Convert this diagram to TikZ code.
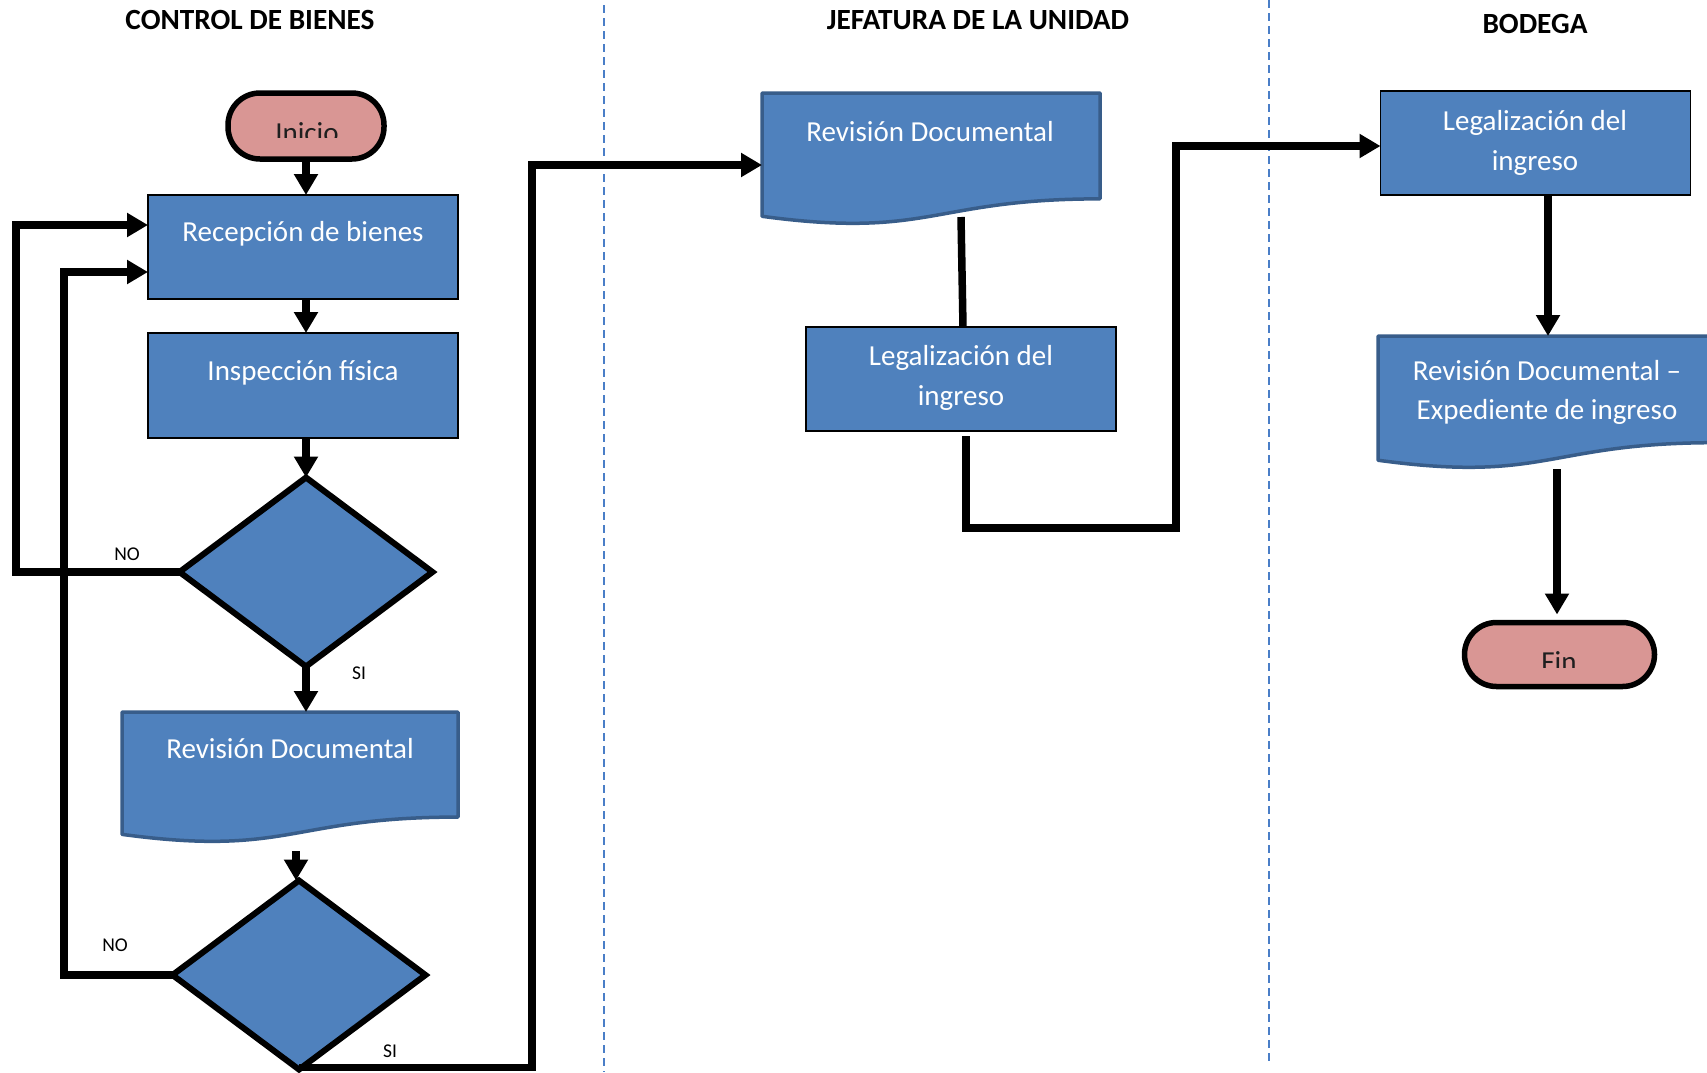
\documentclass[tikz,border=0pt]{standalone}
\usepackage{fontspec}
\setmainfont{Carlito}
\usetikzlibrary{arrows.meta,shapes.geometric,calc}

\definecolor{procblue}{HTML}{4F81BD}
\definecolor{docedge}{HTML}{385D8A}
\definecolor{termpink}{HTML}{D99694}
\definecolor{lanedash}{HTML}{4A7EC7}

\tikzset{
  procbox/.style={draw=black, line width=1.3pt, fill=procblue,
    minimum width=310pt, minimum height=104pt, inner sep=0pt, outer sep=0pt},
  decision/.style={diamond, draw=black, line width=6pt, fill=procblue,
    minimum width=253pt, minimum height=189pt, inner sep=0pt, outer sep=0pt},
  terminal/.style={draw=black, line width=5.5pt, fill=termpink,
    rounded corners=32pt, inner sep=0pt, outer sep=0pt},
  docframe/.style={minimum width=338pt, minimum height=132pt, inner sep=0pt, outer sep=0pt},
  docline/.style={draw=docedge, line width=3.5pt, fill=procblue, line join=round},
  boxtext/.style={text=white, font=\fontsize{29}{35}\selectfont, anchor=base, inner sep=0pt},
  termtext/.style={text=black!88, font=\fontsize{29}{35}\selectfont, anchor=base, inner sep=0pt},
  lanetitle/.style={font=\bfseries\fontsize{29.3}{35}\selectfont, anchor=base, inner sep=0pt},
  branch/.style={font=\fontsize{19.5}{23}\selectfont, anchor=base, inner sep=0pt},
  conn/.style={line width=7.5pt, draw=black},
  flow/.style={conn, -{Triangle[length=21pt,width=23pt]}},
  lane/.style={draw=lanedash, line width=2pt, dash pattern=on 8pt off 5pt},
}

% document symbol with a wavy lower edge, drawn over an invisible frame node
\newcommand\wavydoc[1]{%
  \draw[docline] (#1.north west) -- (#1.north east)
    -- ($(#1.north east)!0.802!(#1.south east)$)
    .. controls ($(#1.north)!0.802!(#1.south)$) and ($(#1.north)!1.107!(#1.south)$)
    .. ($(#1.north west)!0.934!(#1.south west)$) -- cycle;}

\begin{document}
\begin{tikzpicture}[x=1pt, y=-1pt]
\useasboundingbox (0,0) rectangle (1707,1072);
\fill[white] (0,0) rectangle (1707,1072);

% swimlane separators
\draw[lane] (604,5) -- (604,1072);
\draw[lane] (1269,0) -- (1269,1061);

% lane titles
\node[lanetitle] (h1) at (250,29) {CONTROL DE BIENES};
\node[lanetitle] (h2) at (978,29) {JEFATURA DE LA UNIDAD};
\node[lanetitle] (h3) at (1535,33) {BODEGA};

% ---- Control de bienes ----
\node[terminal, minimum width=156pt, minimum height=66pt] (inicio) at (306,126) {};
\node[procbox] (recep) at (303,247) {};
\node[procbox, minimum height=105pt] (insp) at (303,385.5) {};
\node[decision] (dec1) at (306,572) {};
\node[docframe, minimum width=336pt, minimum height=131pt] (revL) at (290,777.5) {};
\wavydoc{revL}
\node[decision] (dec2) at (299,975) {};

% ---- Jefatura de la unidad ----
\node[docframe] (revM) at (931,159) {};
\wavydoc{revM}
\node[procbox] (legM) at (961,379) {};

% ---- Bodega ----
\node[procbox] (legB) at (1535.5,143) {};
\node[docframe, minimum height=133pt] (revR) at (1547,402.5) {};
\wavydoc{revR}
\node[terminal, minimum width=190pt, minimum height=64pt] (fin) at (1559.5,654.5) {};

% routing points
\coordinate (loopA) at (16,0);
\coordinate (loopB) at (64,0);
\coordinate (rise) at (532,0);
\coordinate (hopA) at (1176,528);
\coordinate (revL-out) at ($(revL.south)+(6,8)$);
\coordinate (legM-out) at ($(legM.south)+(5,5)$);
\coordinate (revM-out) at ($(revM.south)+(30,-8)$);
\coordinate (legB-out) at ($(legB.south)+(12.5,0)$);
\coordinate (revR-out) at ($(revR.south)+(10,0)$);

% connectors
\draw[flow] (inicio.south) -- (inicio.south |- recep.north);
\draw[flow] ([xshift=3pt]recep.south) -- ([xshift=3pt]insp.north);
\draw[flow] ([xshift=3pt]insp.south) -- (dec1.north);
\draw[flow] (dec1.south) -- (dec1.south |- revL.north);
\draw[flow] (revL-out) -- (revL-out |- dec2.north);
\draw[flow] (dec1.west) -- (dec1.west -| loopA) |- ([yshift=22pt]recep.west);
\draw[flow] (dec2.west) -- (dec2.west -| loopB) |- ([yshift=-25pt]recep.west);
\draw[flow] ([yshift=2pt]dec2.south) -- ([yshift=2pt]dec2.south -| rise) |- ([yshift=-6pt]revM.west);
\draw[conn] ([xshift=2pt]legM.north) -- (revM-out);
\draw[flow] (legM-out) |- (hopA) |- ([yshift=-3pt]legB.west);
\draw[flow] (legB-out) -- (legB-out |- revR.north);
\draw[flow, shorten >=8pt] (revR-out) -- (revR-out |- fin.north);

% texts inside the shapes
\node[boxtext] (recep-t) at (303,241) {Recepción de bienes};
\node[boxtext] (insp-t) at (303,380) {Inspección física};
\node[boxtext] (revL-t) at (290,758) {Revisión Documental};
\node[boxtext] (revM-t) at (930,141) {Revisión Documental};
\node[boxtext] (legM-t1) at (961,365) {Legalización del};
\node[boxtext] (legM-t2) at (961,405) {ingreso};
\node[boxtext] (legB-t1) at (1535,130) {Legalización del};
\node[boxtext] (legB-t2) at (1535,170) {ingreso};
\node[boxtext] (revR-t1) at (1547,380) {Revisión Documental –};
\node[boxtext] (revR-t2) at (1547,419) {Expediente de ingreso};

\begin{scope}
  \clip (220,90) rectangle (392,137);
  \node[termtext] (inicio-t) at (307,142) {Inicio};
\end{scope}
\begin{scope}
  \clip (1460,620) rectangle (1660,667);
  \node[termtext] (fin-t) at (1559,671) {Fin};
\end{scope}

% branch labels
\node[branch] (no1) at (127,560) {NO};
\node[branch] (si1) at (359,679) {SI};
\node[branch] (no2) at (115,951) {NO};
\node[branch] (si2) at (390,1057) {SI};
\end{tikzpicture}
\end{document}
